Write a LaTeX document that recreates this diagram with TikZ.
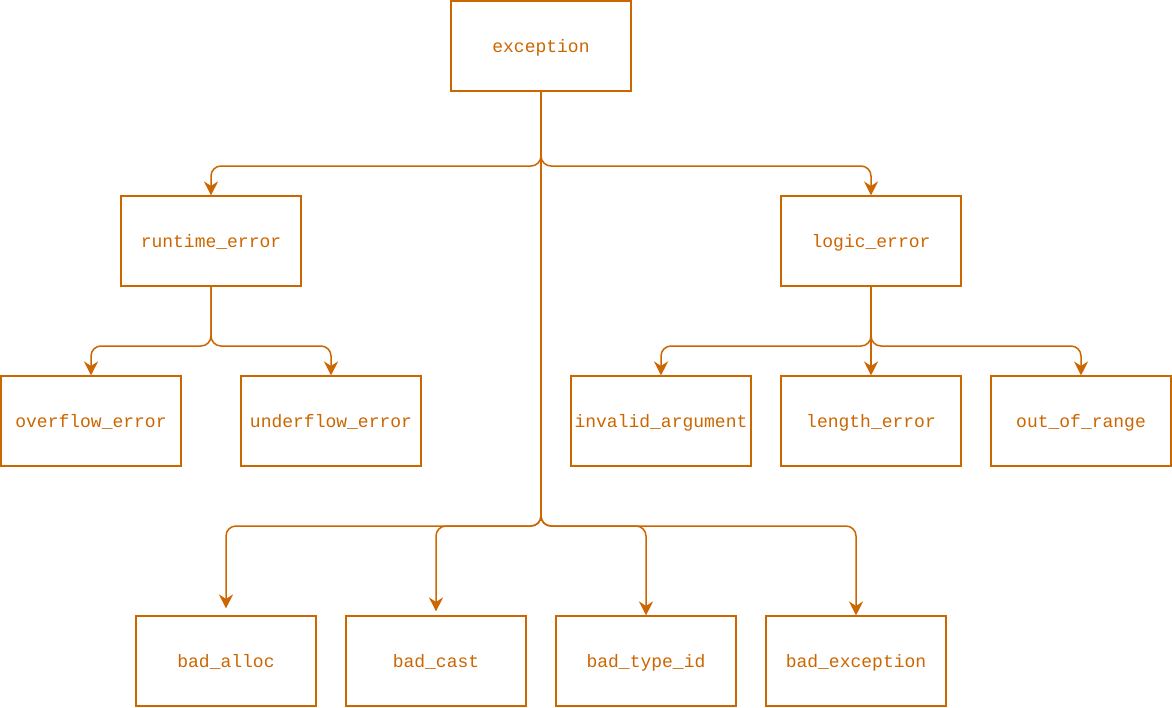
\documentclass[tikz,border=0pt]{standalone}
\usepackage{fontspec}
\setmonofont{Liberation Mono}
\usetikzlibrary{arrows.meta}
\definecolor{org}{HTML}{CC6600}
\begin{document}
\begin{tikzpicture}[x=1pt,y=-1pt,
  cls/.style={draw=org,line width=1.1pt,minimum width=180pt,minimum height=90pt,inner sep=0pt,
    text=org,font=\ttfamily\fontsize{18}{20}\selectfont,text depth=0pt,text height=12pt},
  conn/.style={draw=org,line width=1.5pt,rounded corners=10pt,
    -{Stealth[length=14pt,width=14pt,inset=4.5pt]}}]
\useasboundingbox (0,0) rectangle (1172,707);
\node[cls] (exc) at (541,46) {exception};
\node[cls] (rt) at (211,241) {runtime\_error};
\node[cls] (le) at (871,241) {logic\_error};
\node[cls] (ov) at (91,421) {overflow\_error};
\node[cls] (un) at (331,421) {underflow\_error};
\node[cls] (ia) at (661,421) {invalid\_argument};
\node[cls] (len) at (871,421) {length\_error};
\node[cls] (oor) at (1081,421) {out\_of\_range};
\node[cls] (ba) at (226,661) {bad\_alloc};
\node[cls] (bc) at (436,661) {bad\_cast};
\node[cls] (bt) at (646,661) {bad\_type\_id};
\node[cls] (be) at (856,661) {bad\_exception};
% exception -> second level
\draw[conn] (exc.south) -- (541,166) -| (rt.north);
\draw[conn] (exc.south) -- (541,166) -| (le.north);
% exception -> bottom
\draw[conn,shorten >=7pt] (exc.south) -- (541,526) -| (ba.north);
\draw[conn,shorten >=4pt] (exc.south) -- (541,526) -| (bc.north);
\draw[conn] (exc.south) -- (541,526) -| (bt.north);
\draw[conn] (exc.south) -- (541,526) -| (be.north);
% runtime_error
\draw[conn] (rt.south) -- (211,346) -| (ov.north);
\draw[conn] (rt.south) -- (211,346) -| (un.north);
% logic_error
\draw[conn] (le.south) -- (871,346) -| (ia.north);
\draw[conn] (le.south) -- (len.north);
\draw[conn] (le.south) -- (871,346) -| (oor.north);
\end{tikzpicture}
\end{document}
